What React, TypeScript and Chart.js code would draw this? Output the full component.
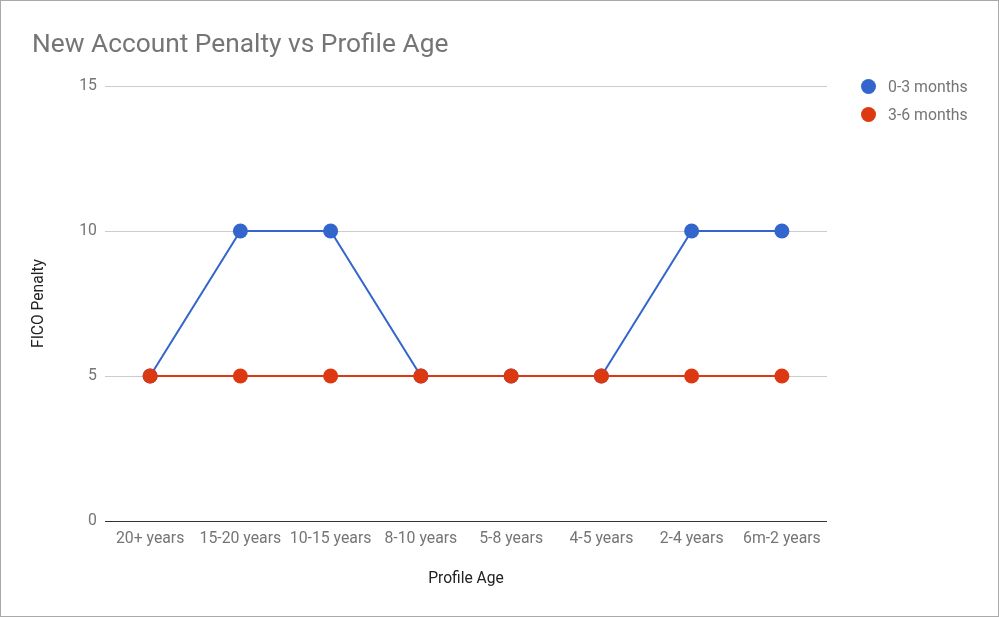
import React, { useEffect, useRef } from "react";
import { Chart, registerables } from "chart.js";

Chart.register(...registerables);

const categories = ["20+ years", "15-20 years", "10-15 years", "8-10 years", "5-8 years", "4-5 years", "2-4 years", "6m-2 years"];
const series03 = [5, 10, 10, 5, 5, 5, 10, 10];
const series36 = [5, 5, 5, 5, 5, 5, 5, 5];
const seriesNames = ["0-3 months", "3-6 months"];
const seriesColors = ["#3366cc", "#dc3912"];
const yTicks = [0, 5, 10, 15];

const FONT = "Roboto, 'Noto Sans', sans-serif";

export default function App() {
  const ref = useRef<HTMLCanvasElement>(null);

  useEffect(() => {
    document.body.style.margin = "0";
    const canvas = ref.current!;
    const chart = new Chart(canvas, {
      type: "line",
      data: {
        labels: categories,
        datasets: [
          {
            label: seriesNames[0],
            data: series03,
            borderColor: seriesColors[0],
            backgroundColor: seriesColors[0],
            borderWidth: 2,
            pointRadius: 7.5,
            pointBorderWidth: 0,
            order: 1,
          },
          {
            label: seriesNames[1],
            data: series36,
            borderColor: seriesColors[1],
            backgroundColor: seriesColors[1],
            borderWidth: 2,
            pointRadius: 7.5,
            pointBorderWidth: 0,
            order: 0,
          },
        ],
      },
      options: {
        responsive: false,
        animation: false,
        devicePixelRatio: 1,
        layout: { padding: { left: 31, right: 171, top: 0, bottom: 0 } },
        plugins: {
          legend: { display: false },
          tooltip: { enabled: false },
          title: {
            display: true,
            text: "New Account Penalty vs Profile Age",
            align: "start",
            color: "#757575",
            font: { family: FONT, size: 26.3, weight: "normal", lineHeight: 1.2 },
            padding: { top: 29, bottom: 24.44 },
          },
        },
        scales: {
          x: {
            type: "category",
            offset: true,
            grid: { display: false, drawTicks: false },
            border: { display: false },
            ticks: {
              color: "#757575",
              font: { family: FONT, size: 15.8 },
              padding: 9,
              maxRotation: 0,
              autoSkip: false,
            },
            title: {
              display: true,
              text: "Profile Age",
              color: "#222222",
              font: { family: FONT, size: 15.6, lineHeight: 1 },
              padding: { top: 0, bottom: 29 },
            },
            afterFit: (s: any) => {
              s.height = 95;
            },
          },
          y: {
            min: 0,
            max: 15,
            afterBuildTicks: (s: any) => {
              s.ticks = yTicks.map((v) => ({ value: v }));
            },
            grid: {
              drawTicks: false,
              color: (ctx: any) => (ctx.tick && ctx.tick.value === 0 ? "#333333" : "#cccccc"),
              lineWidth: 1,
            },
            border: { display: false },
            ticks: {
              color: "#757575",
              font: { family: FONT, size: 15.8 },
              padding: 8,
            },
            title: {
              display: true,
              text: "FICO Penalty",
              color: "#222222",
              font: { family: FONT, size: 15.6, lineHeight: 1 },
              padding: { top: -1, bottom: 0 },
            },
            afterFit: (s: any) => {
              s.width = 73;
            },
          },
        },
      },
    });
    return () => chart.destroy();
  }, []);

  return (
    <div
      style={{
        position: "relative",
        width: 999,
        height: 617,
        boxSizing: "border-box",
        border: "1px solid #aaaaaa",
        background: "#ffffff",
        fontFamily: FONT,
      }}
    >
      <canvas ref={ref} width={997} height={615} style={{ display: "block" }} />
      {seriesNames.map((name, i) => (
        <div
          key={name}
          style={{
            position: "absolute",
            left: 860,
            top: 75 + i * 28,
            height: 20,
            display: "flex",
            alignItems: "center",
            whiteSpace: "nowrap",
          }}
        >
          <span
            style={{
              display: "inline-block",
              width: 15,
              height: 15,
              borderRadius: "50%",
              background: seriesColors[i],
              marginRight: 12,
            }}
          />
          <span style={{ fontSize: 15.8, color: "#757575" }}>{name}</span>
        </div>
      ))}
    </div>
  );
}
